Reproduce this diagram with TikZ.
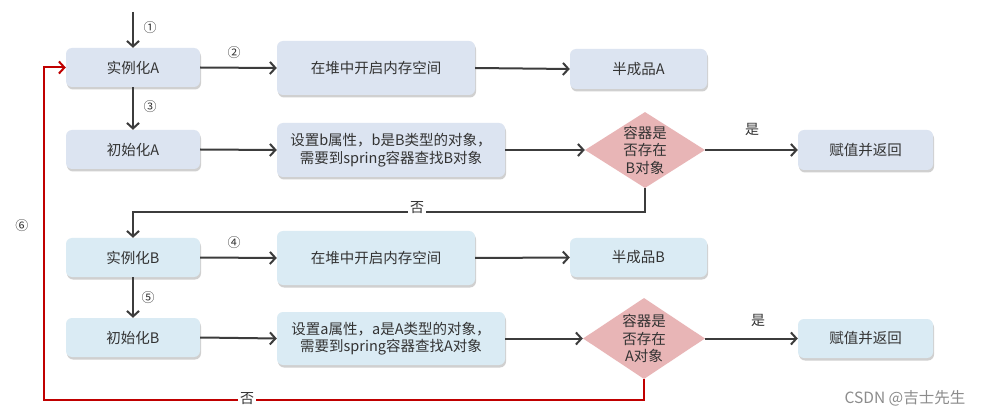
\documentclass[tikz,border=0pt]{standalone}
\usepackage{fontspec}
\setmainfont{Noto Sans CJK SC}
\usetikzlibrary{arrows.meta,shapes.geometric,shadows}
\definecolor{boxA}{HTML}{DCE4F1}
\definecolor{boxB}{HTML}{DAEBF4}
\definecolor{dia}{HTML}{E8B5B6}
\definecolor{ln}{HTML}{3C3C3C}
\definecolor{redln}{HTML}{C00000}
\definecolor{txt}{HTML}{333333}
\tikzset{
  box/.style={rectangle, rounded corners=6pt, inner sep=0pt, align=center, text=txt,
    font=\fontsize{14.5}{17.5}\selectfont,
    drop shadow={shadow xshift=1pt, shadow yshift=-2.5pt, fill=black!30, opacity=0.6}},
  boxa/.style={box, fill=boxA},
  boxb/.style={box, fill=boxB},
  decide/.style={diamond, fill=dia, inner sep=0pt, minimum width=120pt, minimum height=76pt},
  ddtext/.style={align=center, text=txt, font=\fontsize{14.5}{17.5}\selectfont},
  conn/.style={draw=ln, line width=2pt, -{Straight Barb[length=5.5pt,width=12pt,line width=2pt]}},
  redconn/.style={draw=redln, line width=2pt, -{Straight Barb[length=5.5pt,width=12pt,line width=2pt]}},
  lab/.style={text=txt, font=\fontsize{14}{16}\selectfont},
  numlab/.style={text=txt, font=\fontsize{13}{15}\selectfont},
}
\begin{document}
\begin{tikzpicture}[x=1pt,y=-1pt]
\useasboundingbox[fill=white] (0,0) rectangle (989,417);

% Row A
\node[boxa, minimum width=134pt, minimum height=39pt] (iA) at (133,67.5) {实例化A};
\node[boxa, minimum width=198pt, minimum height=54pt] (heapA) at (376,68) {在堆中开启内存空间};
\node[boxa, minimum width=137pt, minimum height=40pt] (halfA) at (638.5,69) {半成品A};
\node[boxa, minimum width=134pt, minimum height=39pt] (initA) at (133,149.5) {初始化A};
\node[boxa, minimum width=228pt, minimum height=54pt] (setB) at (391,150) {设置b属性，b是B类型的对象，\\ 需要到spring容器查找B对象};
\node[decide] (diaB) at (645,150) {};
\node[ddtext] (diaBt) at (645,150) {容器是\\否存在\\B对象};
\node[boxa, minimum width=135pt, minimum height=40pt] (retA) at (865.5,150) {赋值并返回};

% Row B
\node[boxb, minimum width=134pt, minimum height=39pt] (iB) at (133,257.5) {实例化B};
\node[boxb, minimum width=198pt, minimum height=54pt] (heapB) at (376,258) {在堆中开启内存空间};
\node[boxb, minimum width=137pt, minimum height=39pt] (halfB) at (638.5,257.5) {半成品B};
\node[boxb, minimum width=134pt, minimum height=39pt] (initB) at (133,337.5) {初始化B};
\node[boxb, minimum width=228pt, minimum height=53pt] (setA) at (391,338.5) {设置a属性，a是A类型的对象，\\ 需要到spring容器查找A对象};
\node[decide, minimum width=122pt, minimum height=81pt] (diaA) at (644,338.5) {};
\node[ddtext] (diaAt) at (644,338.5) {容器是\\否存在\\A对象};
\node[boxb, minimum width=135pt, minimum height=39pt] (retB) at (865.5,338.5) {赋值并返回};

% coordinates
\coordinate (start) at (133,12);
\coordinate (noB) at (133,212);
\coordinate (redc) at (44,400);

% connectors A
\draw[conn] (start) -- (iA.north);
\draw[conn] (iA.east) -- (heapA.west);
\draw[conn] (heapA.east) -- (halfA.west);
\draw[conn] (iA.south) -- (initA.north);
\draw[conn] (initA.east) -- (setB.west);
\draw[conn] (setB.east) -- (diaB.west);
\draw[conn] (diaB.east) -- (retA.west);
\draw[conn] (diaB.south) |- (noB) -- (iB.north);

% connectors B
\draw[conn] (iB.east) -- (heapB.west);
\draw[conn] (heapB.east) -- (halfB.west);
\draw[conn] (iB.south) -- (initB.north);
\draw[conn] (initB.east) -- (setA.west);
\draw[conn] (setA.east) -- (diaA.west);
\draw[conn] (diaA.east) -- (retB.west);
\draw[redconn] (diaA.south) |- (redc) |- (iA.west);

% labels
\node[numlab] (n1) at (150,28) {①};
\node[numlab] (n2) at (234,53) {②};
\node[numlab] (n3) at (150,107) {③};
\node[numlab] (n4) at (234,243) {④};
\node[numlab] (n5) at (148,298) {⑤};
\node[numlab] (n6) at (22,226) {⑥};
\node[lab] (yesA) at (752,129) {是};
\node[lab] (yesB) at (758,320) {是};
\node[lab, fill=white, inner sep=2pt] (noBl) at (417,208) {否};
\node[lab, fill=white, inner sep=2pt] (noAl) at (247,399) {否};
\node[text=black!45, font=\fontsize{15.5}{17}\selectfont] (wm) at (905,398) {CSDN @吉士先生};
\end{tikzpicture}
\end{document}
